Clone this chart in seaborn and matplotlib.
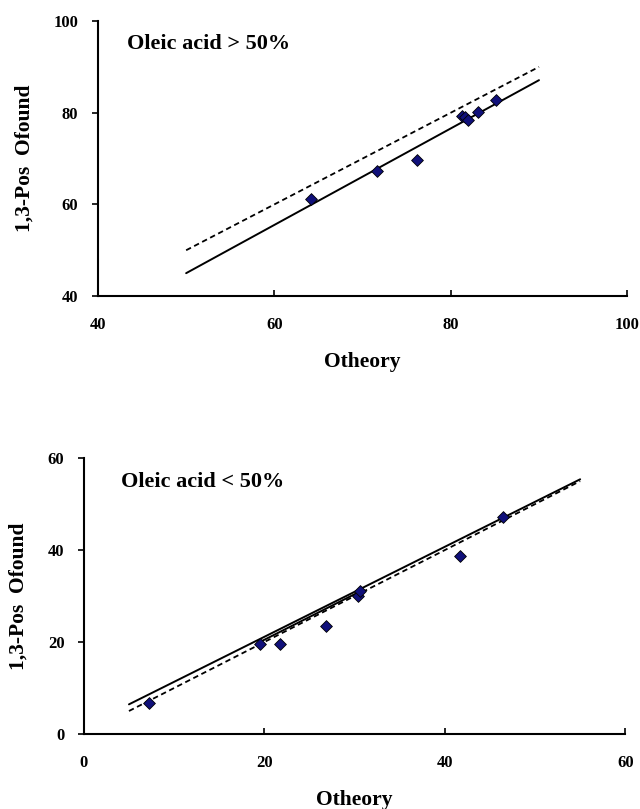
import matplotlib
matplotlib.use("Agg")
import matplotlib.pyplot as plt
import seaborn as sns

# ---- data ----
hi_theory = [64.1, 71.6, 76.2, 81.3, 81.6, 81.9, 83.1, 85.1]
hi_found = [61.1, 67.2, 69.6, 79.3, 79.0, 78.4, 80.2, 82.7]
hi_fit_x = [50, 90]
hi_fit_y = [45.0, 87.1]
hi_ideal_x = [50, 90]
hi_ideal_y = [50, 90]

lo_theory = [7.25, 19.5, 21.7, 26.8, 30.4, 30.6, 41.7, 46.4]
lo_found = [6.8, 19.6, 19.6, 23.4, 30.0, 31.0, 38.7, 47.3]
lo_fit_x = [5, 55]
lo_fit_y = [6.45, 55.4]
lo_ideal_x = [5, 55]
lo_ideal_y = [5.0, 55.0]
lo_seg_x = [19.4, 30.4]
lo_seg_y = [19.9, 30.8]

hi_ticks = [40, 60, 80, 100]
lo_ticks = [0, 20, 40, 60]

sns.set_theme(style="white")
plt.rcParams['font.family'] = ['Liberation Serif', 'DejaVu Serif']
plt.rcParams['font.weight'] = 'bold'
plt.rcParams['text.color'] = 'black'
plt.rcParams['axes.labelcolor'] = 'black'
plt.rcParams['xtick.color'] = 'black'
plt.rcParams['ytick.color'] = 'black'

fig = plt.figure(figsize=(6.4, 8.09), dpi=100)
ax1 = fig.add_axes([0.153, 0.634, 0.827, 0.340])
ax2 = fig.add_axes([0.131, 0.0927, 0.846, 0.341])

marker_color = "#10107a"


def draw(ax, tx, fy, fx, fyv, ix, iy, ticks, label, tx0, seg=None):
    sns.lineplot(x=ix, y=iy, ax=ax, color="black", lw=1.3, sort=False,
                 linestyle=(0, (3, 2)), legend=False)
    sns.lineplot(x=fx, y=fyv, ax=ax, color="black", lw=1.4, sort=False, legend=False)
    if seg is not None:
        sns.lineplot(x=seg[0], y=seg[1], ax=ax, color="black", lw=1.4, sort=False, legend=False)
    sns.scatterplot(x=tx, y=fy, ax=ax, marker="D", s=36, color=marker_color,
                    edgecolor="black", linewidth=0.6, zorder=5, legend=False)
    ax.set_xlim(ticks[0], ticks[-1])
    ax.set_ylim(ticks[0], ticks[-1])
    ax.set_xticks(ticks)
    ax.set_yticks(ticks)
    ax.set_xticklabels([str(t) for t in ticks], fontsize=12, fontweight='bold')
    ax.set_yticklabels([str(t) for t in ticks], fontsize=12, fontweight='bold')
    ax.tick_params(axis='x', direction='in', length=4, width=1.2, pad=15,
                   colors='black', bottom=True)
    ax.tick_params(axis='y', direction='out', length=4, width=1.2, pad=10,
                   colors='black', left=True)
    for s in ['top', 'right']:
        ax.spines[s].set_visible(False)
    for s in ['left', 'bottom']:
        ax.spines[s].set_color('black')
        ax.spines[s].set_linewidth(1.5)
    ax.set_xlabel("Otheory", fontsize=15.5, fontweight='bold', labelpad=14,
                  color='black')
    ax.set_ylabel("1,3-Pos  Ofound", fontsize=15.5, fontweight='bold', labelpad=14,
                  color='black')
    ax.text(tx0, 0.915, label, transform=ax.transAxes, fontsize=16,
            fontweight='bold', ha='left', va='center', color='black')
    ax.set_facecolor('white')


draw(ax1, hi_theory, hi_found, hi_fit_x, hi_fit_y, hi_ideal_x, hi_ideal_y,
     hi_ticks, "Oleic acid > 50%", 0.055)
draw(ax2, lo_theory, lo_found, lo_fit_x, lo_fit_y, lo_ideal_x, lo_ideal_y,
     lo_ticks, "Oleic acid < 50%", 0.068, seg=(lo_seg_x, lo_seg_y))

fig.savefig("out.png", dpi=100, facecolor='white')
